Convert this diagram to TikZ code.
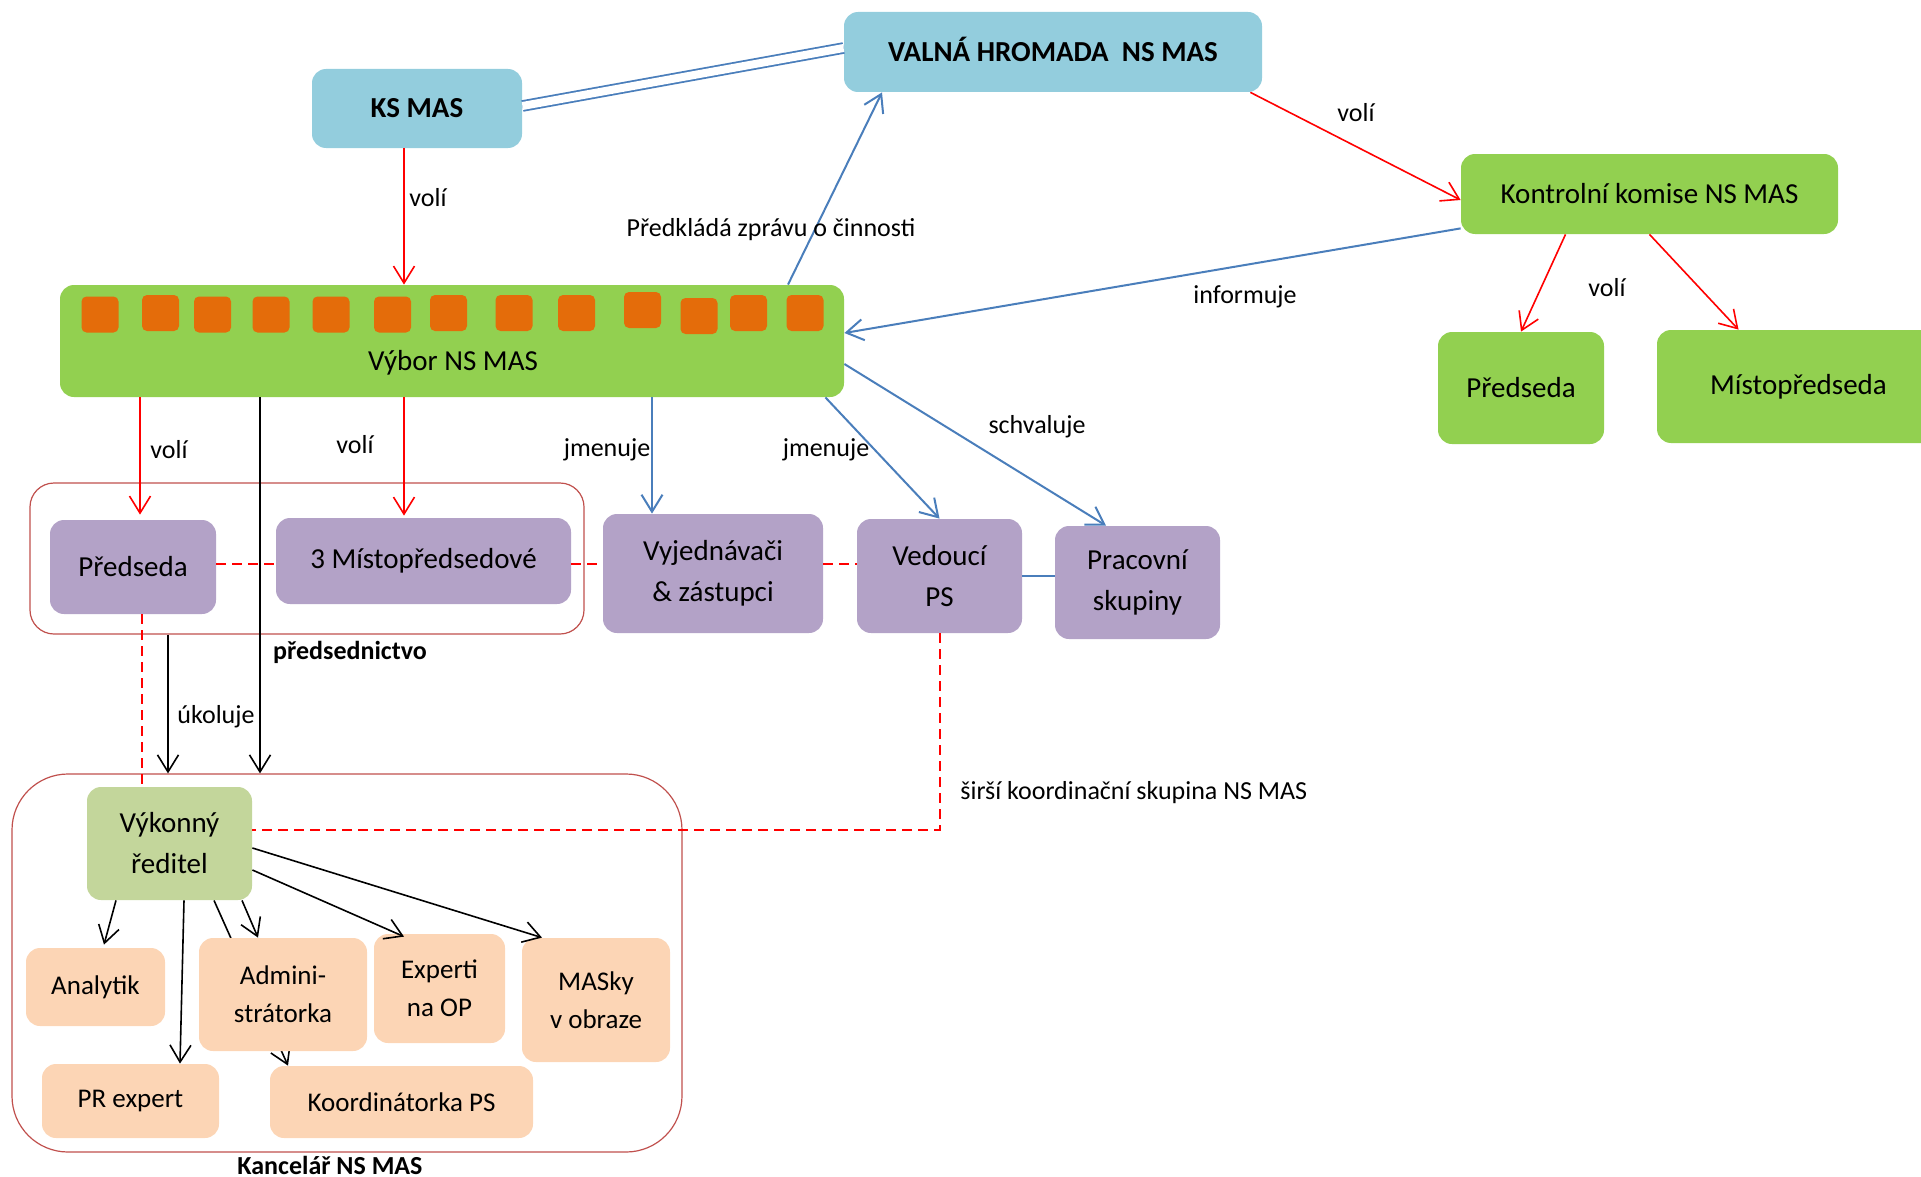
\documentclass[tikz,border=0pt]{standalone}
\usepackage{fontspec}
\setmainfont{Carlito}
\usetikzlibrary{arrows.meta,backgrounds}
\definecolor{bluebox}{HTML}{93CDDD}
\definecolor{greenbox}{HTML}{92D050}
\definecolor{orangesq}{HTML}{E46C0A}
\definecolor{purplebox}{HTML}{B3A2C7}
\definecolor{lightgreen}{HTML}{C3D69B}
\definecolor{peach}{HTML}{FCD5B5}
\definecolor{blueline}{HTML}{4A7EBB}
\definecolor{framered}{HTML}{C0504D}
\tikzset{
  box/.style={rounded corners=7pt, inner sep=0pt, align=center, draw=none,
    font=\fontsize{14.5}{20.5}\selectfont},
  bluebx/.style={box, fill=bluebox, font=\fontsize{14.5}{20.5}\selectfont\bfseries},
  greenbx/.style={box, fill=greenbox},
  purplebx/.style={box, fill=purplebox},
  ltgreenbx/.style={box, fill=lightgreen},
  peachbx/.style={box, fill=peach, font=\fontsize{13.5}{19}\selectfont},
  sq/.style={fill=orangesq, rounded corners=2.5pt, minimum width=18.5pt, minimum height=18pt, inner sep=0pt},
  frame/.style={draw=framered, line width=0.6pt, inner sep=0pt},
  arr/.style={-{Straight Barb[length=8.5pt,width=10.5pt]}},
  redarr/.style={arr, draw=red, line width=0.8pt},
  bluearr/.style={arr, draw=blueline, line width=1pt},
  blackarr/.style={arr, draw=black, line width=0.8pt},
  reddash/.style={draw=red, line width=1pt, dash pattern=on 5pt off 3pt},
  lbl/.style={font=\fontsize{13}{15}\selectfont, inner sep=0pt},
  blbl/.style={font=\fontsize{13}{15}\selectfont\bfseries, inner sep=0pt}
}
\begin{document}
\begin{tikzpicture}[x=0.5pt,y=-0.5pt]
\useasboundingbox (0,0) rectangle (1921,1177);
% frames
\node[frame, rounded corners=12pt, minimum width=277pt, minimum height=75.5pt] (presed) at (307,558.5) {};
\node[frame, rounded corners=28pt, minimum width=335pt, minimum height=189pt] (kancelar) at (347,963) {};
% top boxes
\node[bluebx, minimum width=209pt, minimum height=40pt, text height=9.6pt, text depth=0pt] (valna) at (1053,52) {VALNÁ HROMADA\ \ NS MAS};
\node[bluebx, minimum width=105pt, minimum height=39.5pt] (ks) at (417,108.5) {KS MAS};
\node[greenbx, minimum width=188.5pt, minimum height=40pt] (kk) at (1649.5,194) {Kontrolní komise NS MAS};
\node[greenbx, minimum width=83pt, minimum height=56pt] (pr2) at (1521,388) {Předseda};
\node[greenbx, minimum width=141.5pt, minimum height=56.5pt] (mp2) at (1798.5,386.5) {Místopředseda};
% Vybor
\node[greenbx, minimum width=392pt, minimum height=56pt] (vybor) at (452,341) {};
\node[sq] (s1) at (100,314.5) {};
\node[sq] (s2) at (160.5,313) {};
\node[sq] (s3) at (212.5,314.5) {};
\node[sq] (s4) at (271,314.5) {};
\node[sq] (s5) at (331,314.5) {};
\node[sq] (s6) at (392.5,314.5) {};
\node[sq] (s7) at (448.5,313) {};
\node[sq] (s8) at (514,313) {};
\node[sq] (s9) at (576.5,313) {};
\node[sq] (s10) at (642.5,310) {};
\node[sq] (s11) at (699,316) {};
\node[sq] (s12) at (748.5,313) {};
\node[sq] (s13) at (805,313) {};
\node[inner sep=0pt, font=\fontsize{14.5}{20.5}\selectfont] (vybortxt) at (453,363) {Výbor NS MAS};
% middle row
\node[purplebx, minimum width=83pt, minimum height=47pt] (pred1) at (133,567) {Předseda};
\node[purplebx, minimum width=147.5pt, minimum height=43pt] (mist3) at (423.5,561) {3 Místopředsedové};
\node[purplebx, minimum width=110pt, minimum height=59.5pt] (vyjed) at (713,573.5) {Vyjednávači\\\& zástupci};
\node[purplebx, minimum width=82.5pt, minimum height=57pt] (vedouci) at (939.5,576) {Vedoucí\\PS};
\node[purplebx, minimum width=82.5pt, minimum height=56.5pt] (pracovni) at (1137.5,582.5) {Pracovní\\skupiny};
% office
\node[ltgreenbx, minimum width=82.5pt, minimum height=56.5pt] (vykonny) at (169.5,843.5) {Výkonný\\ředitel};
\node[peachbx, minimum width=69.5pt, minimum height=39pt] (analytik) at (95.5,987) {Analytik};
\node[peachbx, minimum width=84pt, minimum height=56.5pt] (admin) at (283,994.5) {Admini-\\strátorka};
\node[peachbx, minimum width=65.5pt, minimum height=54.5pt] (experti) at (439.5,988.5) {Experti\\na OP};
\node[peachbx, minimum width=74pt, minimum height=62pt] (masky) at (596,1000) {MASky\\v obraze};
\node[peachbx, minimum width=88.5pt, minimum height=37pt] (prexp) at (130.5,1101) {PR expert};
\node[peachbx, minimum width=131.5pt, minimum height=36pt] (koord) at (401.5,1102) {Koordinátorka PS};
% top connectors
\draw[draw=blueline, line width=0.9pt, double=white, double distance=4pt] ([yshift=1.25pt]ks.east) -- ([yshift=2pt]valna.west);
\draw[redarr] ([xshift=-6.5pt]ks.south) -- ([xshift=-6.5pt]ks.south |- vybor.north);
\node[lbl] (l1) at (428,198) {volí};
\draw[bluearr] ([xshift=168pt]vybor.north) -- ([xshift=-85.5pt]valna.south);
\node[lbl] (l2) at (771,230) {Předkládá zprávu o činnosti};
\draw[redarr] ([xshift=-6pt]valna.south east) -- ([yshift=-3pt]kk.west);
\node[lbl] (l3) at (1356,113) {volí};
\draw[bluearr] ([yshift=3pt]kk.south west) -- ([yshift=4pt]vybor.east);
\node[lbl] (l4) at (1245,297) {informuje};
\draw[redarr] ([xshift=-42pt]kk.south) -- (pr2.north);
\draw[redarr] (kk.south) -- ([xshift=-30pt]mp2.north);
\node[lbl] (l5) at (1607,288) {volí};
% Vybor downwards
\draw[redarr] ([xshift=3.5pt]pred1.north |- vybor.south) -- ([xshift=3.5pt,yshift=2.5pt]pred1.north);
\node[lbl] (l6) at (169,450) {volí};
\draw[redarr] ([xshift=-9.75pt]mist3.north |- vybor.south) -- ([xshift=-9.75pt,yshift=1pt]mist3.north);
\node[lbl] (l7) at (355,445) {volí};
\draw[blackarr] ([xshift=-43.5pt]kancelar.north |- vybor.south) -- ([xshift=-43.5pt]kancelar.north);
\draw[bluearr] ([xshift=-30.5pt]vyjed.north |- vybor.south) -- ([xshift=-30.5pt]vyjed.north);
\node[lbl] (l8) at (607,450) {jmenuje};
\draw[bluearr] ([xshift=-9.5pt]vybor.south east) -- (vedouci.north);
\node[lbl] (l9) at (826,450) {jmenuje};
\draw[bluearr] ([yshift=-11.5pt]vybor.east) -- ([xshift=-15.75pt]pracovni.north);
\node[lbl] (l10) at (1037,427) {schvaluje};
% dashed row
\coordinate (dl) at (0,564);
\draw[reddash] (pred1.east |- dl) -- (mist3.west |- dl);
\draw[reddash] (mist3.east |- dl) -- (vyjed.west |- dl);
\draw[reddash] (vyjed.east |- dl) -- (vedouci.west |- dl);
\draw[draw=blueline, line width=1pt] (vedouci.east) -- (pracovni.west |- vedouci.east);
\node[blbl] (l11) at (350,652) {předsednictvo};
\draw[reddash] ([xshift=4.5pt]pred1.south) -- ([xshift=4.5pt]pred1.south |- vykonny.north);
\draw[blackarr] ([xshift=-69.5pt]presed.south) -- ([xshift=-69.5pt]presed.south |- kancelar.north);
\node[lbl] (l12) at (216,717) {úkoluje};
\draw[reddash] (vedouci.south) |- ([yshift=7pt]vykonny.east);
\node[lbl, anchor=west] (l13) at (960,793) {širší koordinační skupina NS MAS};
% office connectors
\begin{scope}[on background layer]
\draw[blackarr] ([xshift=22.25pt]vykonny.south) -- ([xshift=-56.75pt]koord.north);
\end{scope}
\draw[blackarr] ([xshift=-26.75pt]vykonny.south) -- ([xshift=4.25pt,yshift=1.5pt]analytik.north);
\draw[blackarr] ([xshift=7.25pt]vykonny.south) -- ([xshift=24.75pt]prexp.north);
\draw[blackarr] ([xshift=36.25pt]vykonny.south) -- ([xshift=-12.5pt]admin.north);
\draw[blackarr] ([yshift=-13.25pt]vykonny.east) -- ([xshift=-17.75pt,yshift=-1.5pt]experti.north);
\draw[blackarr] ([yshift=-2.25pt]vykonny.east) -- ([xshift=-27pt]masky.north);
\node[blbl] (l14) at (330,1165) {Kancelář NS MAS};
\end{tikzpicture}
\end{document}
